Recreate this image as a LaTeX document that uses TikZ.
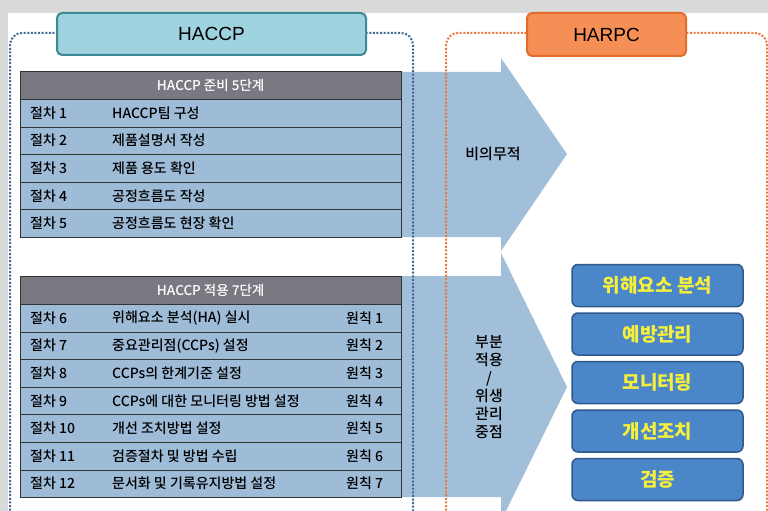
\documentclass[tikz,border=0pt]{standalone}
\usepackage{fontspec}
\setmainfont{Noto Sans CJK KR}
\newfontfamily\medfont{Noto Sans CJK KR Medium}
\newfontfamily\arialfont{Liberation Sans}
\usepackage{tikz}
\usetikzlibrary{positioning}
\definecolor{rowblue}{RGB}{158,188,216}
\definecolor{arrowblue}{RGB}{162,191,218}
\definecolor{headgray}{RGB}{121,121,130}
\definecolor{tealfill}{RGB}{157,210,222}
\definecolor{tealline}{RGB}{62,136,150}
\definecolor{orangefill}{RGB}{246,143,86}
\definecolor{orangeline}{RGB}{228,108,42}
\definecolor{dotblue}{RGB}{63,104,150}
\definecolor{dotorange}{RGB}{236,120,60}
\definecolor{boxblue}{RGB}{75,134,200}
\definecolor{boxline}{RGB}{48,88,140}
\definecolor{textyellow}{RGB}{246,240,60}

\begin{document}
\begin{tikzpicture}[
    x=1pt, y=-1pt,
    titlebox/.style={rectangle, rounded corners=5pt, line width=2pt, font=\arialfont\fontsize{19}{19}\selectfont},
    headrow/.style={rectangle, draw=black!80, fill=headgray, minimum width=381pt, minimum height=28pt, anchor=north west, inner sep=0pt, text=white, font=\medfont\fontsize{13.5}{13.5}\selectfont},
    steprow/.style={rectangle, draw=black!80, fill=rowblue, minimum width=381pt, minimum height=27.6pt, anchor=north west, inner sep=0pt},
    steptext/.style={anchor=west, inner sep=0pt, font=\medfont\fontsize{14}{14}\selectfont},
    harpcbox/.style={rectangle, rounded corners=6pt, draw=boxline, line width=1.5pt, fill=boxblue, minimum width=171pt, minimum height=42pt, text=textyellow, font=\bfseries\fontsize{19}{19}\selectfont},
    dotframe/.style={line width=2pt, dash pattern=on 2pt off 1.6pt, rounded corners=12pt}
]
    % canvas and background strip
    \clip (0,0) rectangle (768,511);
    \useasboundingbox (0,0) rectangle (768,511);
    \fill[black!15] (0,0) rectangle (768,511);
    \fill[white] (8,13) rectangle (768,511);

    % Big arrows behind the tables
    \fill[arrowblue] (20,72) -- (501,72) -- (501,58) -- (567,154) -- (501,251) -- (501,237) -- (20,237) -- cycle;
    \fill[arrowblue] (20,276) -- (501,276) -- (501,253) -- (567,387) -- (501,521) -- (501,497) -- (20,497) -- cycle;

    % Dotted group frames
    \draw[dotframe, dotblue] (10,525) -- (10,33) -- (413,33) -- (413,525);
    \draw[dotframe, dotorange] (446,525) -- (446,33) -- (767,33) -- (767,525);

    % Group titles
    \node[titlebox, draw=tealline, fill=tealfill, minimum width=309pt, minimum height=42pt] (haccp) at (211.5,34) {HACCP};
    \node[titlebox, draw=orangeline, fill=orangefill, minimum width=159pt, minimum height=43pt] (harpc) at (606.5,34.5) {HARPC};

    % Table 1 - HACCP preparation steps
    \node[headrow] (prephead) at (20,71) {HACCP 준비 5단계};
    \foreach \txt [count=\n] in {HACCP팀 구성, 제품설명서 작성, 제품 용도 확인, 공정흐름도 작성, 공정흐름도 현장 확인} {
        \node[steprow] (prep\n) at (20,{99+(\n-1)*27.6}) {};
        \node[steptext] (prepno\n) at (30,{113+(\n-1)*27.6}) {절차 \n};
        \node[steptext] (preptxt\n) at (112,{113+(\n-1)*27.6}) {\txt};
    }

    % Table 2 - HACCP application steps
    \node[headrow] (applyhead) at (20,276) {HACCP 적용 7단계};
    \foreach \txt [count=\n] in {위해요소 분석(HA) 실시, 중요관리점(CCPs) 설정, CCPs의 한계기준 설정, CCPs에 대한 모니터링 방법 설정, 개선 조치방법 설정, 검증절차 및 방법 수립, 문서화 및 기록유지방법 설정} {
        \pgfmathtruncatemacro{\stepno}{\n+5}
        \node[steprow] (apply\n) at (20,{304+(\n-1)*27.6}) {};
        \node[steptext] (applyno\n) at (30,{318+(\n-1)*27.6}) {절차 \stepno};
        \node[steptext] (applytxt\n) at (112,{318+(\n-1)*27.6}) {\txt};
        \node[steptext] (rule\n) at (346,{318+(\n-1)*27.6}) {원칙 \n};
    }

    % Arrow labels
    \node[font=\medfont\fontsize{15}{15}\selectfont] (optional) at (493,154) {비의무적};
    \node[align=center, font=\medfont\fontsize{15}{18}\selectfont] (partial) at (489,387) {부분\\적용\\/\\위생\\관리\\중점};

    % HARPC elements
    \node[harpcbox] (hazard) at (657.5,285.5) {위해요소 분석};
    \node[harpcbox, below=5pt of hazard] (prevent) {예방관리};
    \node[harpcbox, below=5pt of prevent] (monitor) {모니터링};
    \node[harpcbox, below=5pt of monitor] (correct) {개선조치};
    \node[harpcbox, below=5pt of correct] (verify) {검증};

\end{tikzpicture}
\end{document}
